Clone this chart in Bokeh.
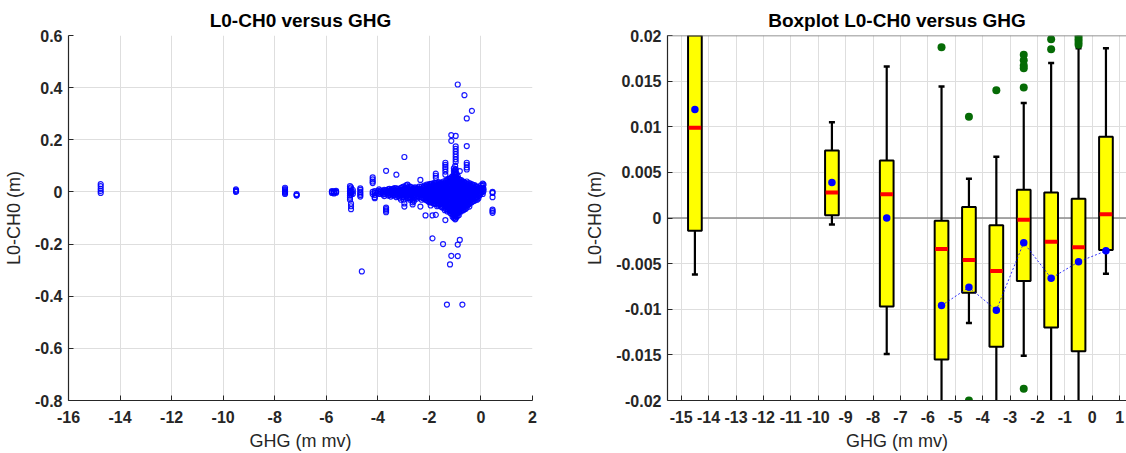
import numpy as np
from bokeh.plotting import figure
from bokeh.layouts import row
from bokeh.models import FixedTicker, CustomJSTickFormatter, Span
from bokeh.embed import file_html
from bokeh.resources import INLINE

FONT = "Liberation Sans"
TXT = "#262626"

# ---------------------------------------------------------------- scatter data
# Each entry: (GHG value, list of L0-CH0 values observed at that GHG)
scatter_columns = [
    (-14.75, [0.030, 0.022, 0.012, 0.004, -0.004]),
    (-9.50, [0.010, 0.006, 0.003, 0.000]),
    (-7.60, [0.016, 0.011, 0.007, 0.003, 0.000, -0.004, -0.008]),
    (-7.15, [-0.008, -0.012, -0.014]),
    (-5.78, [0.003, 0.000, -0.004]),
    (-5.70, [0.002, -0.002, -0.006]),
    (-5.62, [0.004, 0.000, -0.003]),
    (-5.08, [0.022, 0.014, 0.006, 0.000, -0.006, -0.014, -0.022, -0.030]),
    (-5.04, [0.018, 0.004, -0.004, -0.010, -0.045, -0.055, -0.066]),
    (-4.97, [0.008, 0.000, -0.008]),
    (-4.68, [0.014, 0.008, 0.000, -0.006, -0.012, -0.018]),
    (-4.62, [-0.305]),
    (-4.20, [0.056, 0.048, 0.040, 0.034, 0.000, -0.008]),
    (-4.12, [0.003, -0.004, -0.012, -0.020, -0.024]),
    (-4.00, [0.003, -0.003]),
    (-3.95, [0.010, -0.008]),
    (-3.90, [0.005, 0.000, -0.006]),
    (-3.80, [0.004, -0.004, -0.010]),
    (-3.75, [0.008, 0.000, -0.008, -0.016]),
    (-3.68, [0.081, 0.006, -0.002, -0.060, -0.066, -0.072, -0.078]),
    (-3.60, [0.010, 0.002, -0.006, -0.014]),
    (-3.55, [0.012, 0.004, -0.004, -0.012]),
    (-3.50, [0.006, -0.002, -0.010, -0.018]),
    (-3.45, [0.010, 0.000, -0.008]),
    (-3.40, [0.012, 0.004, -0.004, -0.012]),
    (-3.35, [0.015, 0.006, -0.004, -0.014]),
    (-3.28, [0.066, 0.014, 0.006, -0.002, -0.010, -0.020]),
    (-3.22, [0.012, 0.002, -0.008, -0.016]),
    (-3.15, [0.010, 0.002, -0.006, -0.014, -0.022]),
    (-3.10, [0.016, 0.006, -0.004, -0.012, -0.030]),
    (-3.05, [0.018, 0.008, 0.000, -0.010, -0.020]),
    (-3.00, [0.020, 0.010, 0.000, -0.010, -0.020, -0.030]),
    (-2.97, [0.134, 0.014, 0.004, -0.004, -0.044, -0.056]),
    (-2.90, [0.025, 0.012, 0.002, -0.008, -0.018]),
    (-2.85, [0.028, 0.016, 0.006, -0.004, -0.014, -0.024]),
    (-2.80, [0.020, 0.008, -0.002, -0.012, -0.022]),
    (-2.75, [0.020, 0.010, 0.000, -0.010, -0.020, -0.030]),
    (-2.70, [0.018, 0.006, -0.004, -0.014, -0.026]),
    (-2.65, [0.012, 0.004, -0.006, -0.030, -0.040, -0.048]),
    (-2.60, [0.016, 0.006, -0.004, -0.014, -0.024, -0.036]),
    (-2.55, [0.018, 0.008, -0.002, -0.012, -0.022]),
    (-2.50, [0.014, 0.004, -0.006, -0.016, -0.026]),
    (-2.45, [0.014, 0.004, -0.006, -0.016]),
    (-2.40, [0.020, 0.010, 0.000, -0.010, -0.020]),
    (-2.35, [0.046, 0.010, 0.000, -0.010, -0.056]),
    (-2.30, [0.020, 0.010, 0.000, -0.010, -0.020, -0.030]),
    (-2.25, [0.016, 0.006, -0.004, -0.014, -0.024]),
    (-2.20, [0.024, 0.014, 0.004, -0.006, -0.016, -0.026]),
    (-2.15, [0.020, 0.010, 0.000, -0.010, -0.020, -0.030, -0.090]),
    (-2.10, [0.028, 0.018, 0.008, -0.002, -0.012, -0.022, -0.032]),
    (-2.05, [0.024, 0.014, 0.004, -0.006, -0.016, -0.026, -0.036]),
    (-2.00, [0.030, 0.020, 0.010, 0.000, -0.010, -0.020, -0.030, -0.040]),
    (-1.95, [0.030, 0.020, 0.010, 0.000, -0.010, -0.020, -0.030, -0.040, -0.052]),
    (-1.90, [0.032, 0.022, 0.012, 0.002, -0.008, -0.018, -0.028, -0.038]),
    (-1.88, [-0.090, -0.178]),
    (-1.85, [0.028, 0.018, 0.008, -0.002, -0.012, -0.022, -0.032, -0.044]),
    (-1.80, [0.035, 0.025, 0.015, 0.005, -0.005, -0.015, -0.025, -0.035, -0.045]),
    (-1.75, [0.070, 0.062, 0.054, 0.034, 0.024, 0.014, 0.004, -0.006, -0.016,
             -0.026, -0.036, -0.046, -0.088]),
    (-1.70, [0.035, 0.025, 0.015, 0.005, -0.005, -0.015, -0.025, -0.035, -0.045, -0.055]),
    (-1.65, [0.038, 0.028, 0.018, 0.008, -0.002, -0.012, -0.022, -0.032, -0.042, -0.052]),
    (-1.60, [0.032, 0.022, 0.012, 0.002, -0.008, -0.018, -0.028, -0.038, -0.048]),
    (-1.55, [0.036, 0.026, 0.016, 0.006, -0.004, -0.014, -0.024, -0.034, -0.044, -0.056]),
    (-1.50, [0.030, 0.020, 0.010, 0.000, -0.010, -0.020, -0.030, -0.045, -0.060]),
    (-1.47, [-0.200]),
    (-1.45, [0.040, 0.030, 0.020, 0.010, 0.000, -0.010, -0.020, -0.030, -0.040,
             -0.050, -0.060]),
    (-1.40, [0.035, 0.025, 0.015, 0.005, -0.005, -0.015, -0.025, -0.035, -0.045,
             -0.055, -0.070]),
    (-1.38, [0.112, 0.104, 0.096, 0.088, 0.078, 0.066, -0.108]),
    (-1.35, [0.044, 0.034, 0.024, 0.014, 0.004, -0.006, -0.016, -0.026, -0.036,
             -0.046, -0.056, -0.066]),
    (-1.32, [-0.432]),
    (-1.30, [0.045, 0.035, 0.025, 0.015, 0.005, -0.005, -0.015, -0.025, -0.035,
             -0.045, -0.055, -0.065, -0.075]),
    (-1.25, [0.050, 0.040, 0.030, 0.020, 0.010, 0.000, -0.010, -0.020, -0.030,
             -0.040, -0.050, -0.060, -0.070]),
    (-1.20, [0.050, 0.040, 0.030, 0.020, 0.010, 0.000, -0.010, -0.020, -0.030,
             -0.040, -0.050, -0.060, -0.070, -0.080, -0.278]),
    (-1.15, [0.218, 0.196, 0.056, 0.046, 0.036, 0.026, 0.016, 0.006, -0.004,
             -0.014, -0.024, -0.034, -0.044, -0.054, -0.064, -0.074, -0.084, -0.245]),
    (-1.10, [0.060, 0.045, 0.035, 0.025, 0.015, 0.005, -0.005, -0.015, -0.025,
             -0.035, -0.045, -0.055, -0.065, -0.075, -0.085, -0.095]),
    (-1.05, [0.090, 0.080, 0.070, 0.060, 0.050, 0.040, 0.030, 0.020, 0.010, 0.000,
             -0.010, -0.020, -0.030, -0.040, -0.050, -0.060, -0.070, -0.080,
             -0.090, -0.100]),
    (-1.00, [0.100, 0.085, 0.075, 0.065, 0.055, 0.045, 0.035, 0.025, 0.015, 0.005,
             -0.005, -0.015, -0.025, -0.035, -0.045, -0.055, -0.065, -0.075,
             -0.085, -0.095, -0.105]),
    (-0.98, [0.215, 0.175, 0.165, 0.155, 0.145, 0.135, 0.125, 0.115, 0.088, 0.078,
             0.068, 0.058, 0.048, 0.038, 0.028, 0.018, 0.008, -0.002, -0.012,
             -0.022, -0.032, -0.042, -0.052, -0.062, -0.072, -0.082, -0.092, -0.102]),
    (-0.94, [0.070, 0.055, 0.045, 0.035, 0.025, 0.015, 0.005, -0.005, -0.015,
             -0.025, -0.035, -0.045, -0.055, -0.065, -0.075, -0.085, -0.095]),
    (-0.90, [0.412, 0.060, 0.050, 0.040, 0.030, 0.020, 0.010, 0.000, -0.010,
             -0.020, -0.030, -0.040, -0.050, -0.060, -0.070, -0.080, -0.090,
             -0.202, -0.246]),
    (-0.86, [0.050, 0.040, 0.030, 0.020, 0.010, 0.000, -0.010, -0.020, -0.030,
             -0.040, -0.050, -0.060, -0.070, -0.080, -0.090]),
    (-0.82, [0.080, 0.046, 0.036, 0.026, 0.016, 0.006, -0.004, -0.014, -0.024,
             -0.034, -0.044, -0.054, -0.064, -0.074, -0.184]),
    (-0.77, [0.045, 0.035, 0.025, 0.015, 0.005, -0.005, -0.015, -0.025, -0.035,
             -0.045, -0.055, -0.065, -0.075]),
    (-0.72, [0.040, 0.030, 0.020, 0.010, 0.000, -0.010, -0.020, -0.030, -0.040,
             -0.050, -0.060, -0.070, -0.432]),
    (-0.68, [0.040, 0.030, 0.020, 0.010, 0.000, -0.010, -0.020, -0.030, -0.040,
             -0.050, -0.060, -0.070]),
    (-0.64, [0.371, 0.036, 0.026, 0.016, 0.006, -0.004, -0.014, -0.024, -0.034,
             -0.044, -0.054, -0.064]),
    (-0.60, [0.035, 0.025, 0.015, 0.005, -0.005, -0.015, -0.025, -0.035, -0.045,
             -0.055, -0.065]),
    (-0.55, [0.282, 0.176, 0.112, 0.104, 0.094, 0.086, 0.040, 0.030, 0.020, 0.010,
             0.000, -0.010, -0.020, -0.030, -0.040, -0.050, -0.060]),
    (-0.50, [0.030, 0.020, 0.010, 0.000, -0.010, -0.020, -0.030, -0.040, -0.050]),
    (-0.45, [0.034, 0.024, 0.014, 0.004, -0.006, -0.016, -0.026, -0.036, -0.046, -0.056]),
    (-0.40, [0.028, 0.018, 0.008, -0.002, -0.012, -0.022, -0.032, -0.042]),
    (-0.35, [0.311, 0.030, 0.020, 0.010, 0.000, -0.010, -0.020, -0.030, -0.040]),
    (-0.30, [0.025, 0.015, 0.005, -0.005, -0.015, -0.025, -0.035]),
    (-0.25, [0.026, 0.016, 0.006, -0.004, -0.014, -0.024, -0.034]),
    (-0.20, [0.020, 0.010, 0.000, -0.010, -0.020, -0.030]),
    (-0.15, [0.020, 0.010, 0.000, -0.010, -0.020, -0.030]),
    (-0.10, [0.015, 0.005, -0.005, -0.015, -0.025]),
    (-0.05, [0.016, 0.006, -0.004, -0.014]),
    (0.00, [0.025, 0.015, 0.005, -0.005]),
    (0.07, [0.032, 0.024, 0.016, 0.008, 0.000, -0.008]),
    (0.10, [0.028, 0.012, 0.004]),
    (0.45, [0.000, -0.004, -0.020, -0.068, -0.074, -0.080]),
]
ghg = [gx for gx, ys in scatter_columns for _ in ys]
l0_ch0 = [v for _, ys in scatter_columns for v in ys]

# ---------------------------------------------------------------- boxplot data (1 m bins)
box_x = [-14.5, -9.5, -7.5, -5.5, -4.5, -3.5, -2.5, -1.5, -0.5, 0.5]
q1 = [-0.0014, 0.0003, -0.0097, -0.0155, -0.0082, -0.0141, -0.0069, -0.0120, -0.0146, -0.0035]
q3 = [0.0260, 0.0074, 0.0063, -0.0003, 0.0012, -0.0008, 0.0031, 0.0028, 0.0021, 0.0089]
median = [0.0099, 0.0028, 0.0026, -0.0034, -0.0046, -0.0058, -0.0002, -0.0026, -0.0032, 0.0004]
mean = [0.0119, 0.0039, 0.0000, -0.0096, -0.0076, -0.0101, -0.0027, -0.0066, -0.0048, -0.0036]
whisker_low = [-0.0062, -0.0007, -0.0149, -0.0330, -0.0115, -0.0300, -0.0151, -0.0350, -0.0400, -0.0061]
whisker_high = [0.0300, 0.0105, 0.0166, 0.0144, 0.0043, 0.0067, 0.0126, 0.0170, 0.0186, 0.0186]
outlier_x = [-5.5, -4.5, -4.5, -3.5, -2.5, -2.5, -2.5, -2.5, -2.5, -2.5,
             -1.5, -1.5, -0.5, -0.5, -0.5, -0.5]
outlier_y = [0.0187, 0.0111, -0.0200, 0.0140, 0.0179, 0.0173, 0.0167, 0.0164, 0.0143, -0.0187,
             0.0196, 0.0185, 0.0199, 0.0196, 0.0193, 0.0190]

# every bin centre; empty bins break the line of means
bin_centres = list(np.arange(-14.5, 1.0, 1.0))
mean_line = [mean[box_x.index(c)] if c in box_x else np.nan for c in bin_centres]

fmt = CustomJSTickFormatter(code="return String(Math.round(tick*1000)/1000);")


def style(p, xticks, yticks):
    p.title.text_font = FONT
    p.title.text_font_size = "19px"
    p.title.text_font_style = "bold"
    p.title.text_color = "#000000"
    p.title.align = "center"
    p.outline_line_color = None
    p.background_fill_color = "white"
    p.border_fill_color = "white"
    p.xaxis.ticker = FixedTicker(ticks=xticks)
    p.yaxis.ticker = FixedTicker(ticks=yticks)
    for ax in (p.xaxis[0], p.yaxis[0]):
        ax.formatter = fmt
        ax.major_label_text_font = FONT
        ax.major_label_text_font_size = "16px"
        ax.major_label_text_font_style = "bold"
        ax.major_label_text_color = TXT
        ax.axis_label_text_font = FONT
        ax.axis_label_text_font_size = "18px"
        ax.axis_label_text_font_style = "normal"
        ax.axis_label_text_color = TXT
        ax.axis_line_color = TXT
        ax.axis_line_width = 1.2
        ax.major_tick_line_color = TXT
        ax.major_tick_in = 5
        ax.major_tick_out = 0
        ax.minor_tick_line_color = None
        ax.major_label_standoff = 6
        ax.axis_label_standoff = 8
    xa = p.xaxis[0]
    xa.major_label_text_line_height = 1.0
    xa.axis_label_text_line_height = 1.0
    xa.major_label_standoff = 10
    xa.axis_label_standoff = 5
    p.grid.grid_line_color = "#dedede"
    p.grid.grid_line_width = 1


# ---------------------------------------------------------------- left: scatter
p1 = figure(width=560, height=453, x_range=(-16, 2), y_range=(-0.8, 0.6),
            output_backend="svg", toolbar_location=None,
            min_border_left=67, min_border_right=28, min_border_top=35, min_border_bottom=51,
            title="L0-CH0 versus GHG")
style(p1, list(range(-16, 3, 2)), [-0.8, -0.6, -0.4, -0.2, 0, 0.2, 0.4, 0.6])
p1.xaxis.axis_label = "GHG (m mv)"
p1.yaxis.axis_label = "L0-CH0 (m)"
p1.scatter(ghg, l0_ch0, size=5, fill_color=None, line_color="#0000ff",
           line_width=1.2, line_alpha=0.9)

# ---------------------------------------------------------------- right: boxplot
p2 = figure(width=566, height=453, x_range=(-15.5, 1.25), y_range=(-0.02, 0.02),
            output_backend="svg", toolbar_location=None,
            min_border_left=107, min_border_right=0, min_border_top=35, min_border_bottom=51,
            title="Boxplot L0-CH0 versus GHG")
style(p2, list(range(-15, 2)), [-0.02, -0.015, -0.01, -0.005, 0, 0.005, 0.01, 0.015, 0.02])
p2.xaxis.axis_label = "GHG (m mv)"
p2.yaxis.axis_label = "L0-CH0 (m)"

# upper frame edge and the zero reference line
p2.add_layout(Span(location=0.02, dimension="width", line_color="#707070",
                   line_width=1.6, level="overlay"))
p2.add_layout(Span(location=0, dimension="width", line_color="#8c8c8c",
                   line_width=1.6, level="underlay"))

# whiskers and caps
p2.segment(x0=box_x, y0=q3, x1=box_x, y1=whisker_high, line_color="black", line_width=2.2)
p2.segment(x0=box_x, y0=q1, x1=box_x, y1=whisker_low, line_color="black", line_width=2.2)
p2.rect(x=box_x, y=whisker_high, width=0.22, height=2.5, height_units="screen",
        fill_color="black", line_color=None)
p2.rect(x=box_x, y=whisker_low, width=0.22, height=2.5, height_units="screen",
        fill_color="black", line_color=None)
# boxes
p2.vbar(x=box_x, bottom=q1, top=q3, width=0.5, fill_color="#ffff00",
        line_color="black", line_width=2)
# medians
p2.rect(x=box_x, y=median, width=0.46, height=4, height_units="screen",
        fill_color="#ff0000", line_color=None)
# means
p2.line(bin_centres, mean_line, line_color="#0000ff", line_dash="2 2",
        line_width=1, line_alpha=0.8)
p2.scatter(box_x, mean, size=7.5, fill_color="#0000ff", line_color=None)
# outliers
p2.scatter(outlier_x, outlier_y, size=8, fill_color="#066b06", line_color=None)

layout = row(p1, p2)
open("out.html", "w").write(file_html(layout, INLINE))
